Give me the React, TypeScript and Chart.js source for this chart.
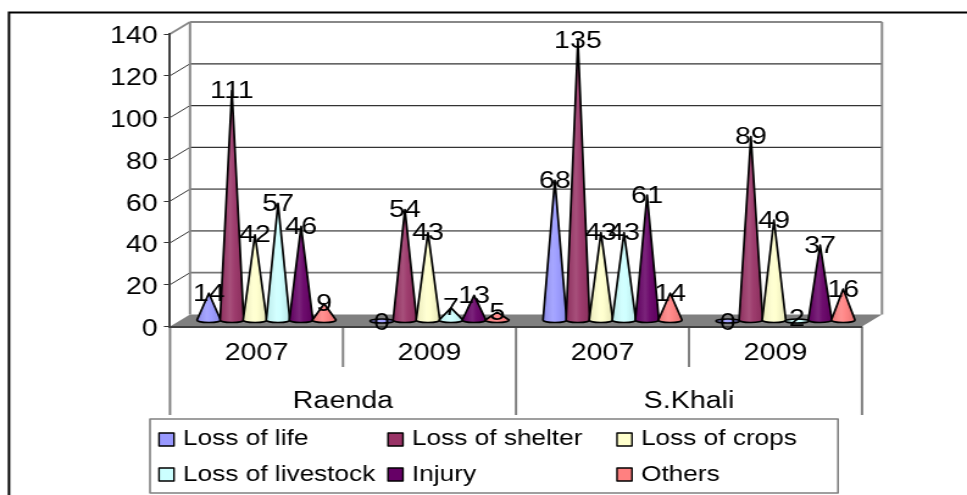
import React, { useEffect, useRef } from "react";
import { Chart, registerables } from "chart.js";

Chart.register(...registerables);

const years = ["2007", "2009", "2007", "2009"];
const places = ["Raenda", "S.Khali"];
const seriesNames = ["Loss of life", "Loss of shelter", "Loss of crops", "Loss of livestock", "Injury", "Others"];
const lossOfLife = [14, 0, 68, 0];
const lossOfShelter = [111, 54, 135, 89];
const lossOfCrops = [42, 43, 43, 49];
const lossOfLivestock = [57, 7, 43, 2];
const injury = [46, 13, 61, 37];
const others = [9, 5, 14, 16];
const seriesValues = [lossOfLife, lossOfShelter, lossOfCrops, lossOfLivestock, injury, others];
const seriesColors = ["#9999FF", "#993366", "#FFFFCC", "#CCFFFF", "#660066", "#FF8080"];

// The reference is horizontally stretched: the canvas is laid out in narrower units and scaled.
const PAGE_W = 967;
const CANVAS_W = 793;
const H = 495;
const K = PAGE_W / CANVAS_W;
const X = (v: number) => v / K;
const FONT = "'Liberation Sans', Arial, sans-serif";

const shade = (hex: string, f: number) => {
  const n = parseInt(hex.slice(1), 16);
  const c = [(n >> 16) & 255, (n >> 8) & 255, n & 255].map((v) =>
    Math.round(f >= 0 ? v + (255 - v) * f : v * (1 + f))
  );
  return `rgb(${c[0]},${c[1]},${c[2]})`;
};

const conePlugin = {
  id: "cones",
  beforeDraw(chart: any) {
    const { ctx } = chart;
    const y = chart.scales.y;
    const x0 = chart.chartArea.left;
    const x1 = chart.chartArea.right;
    const dx = X(20);
    const dy = 12;
    const y0 = y.getPixelForValue(0);
    const yTop = y.getPixelForValue(140);
    // digits sit slightly high with a "middle" baseline: nudge the y tick labels down
    y.getLabelItems(chart.chartArea).forEach((item: any) => {
      if (!item._nudged) {
        item.textOffset += 3;
        item._nudged = true;
      }
    });
    ctx.save();
    // outer frame
    ctx.strokeStyle = "#000";
    ctx.lineWidth = 2;
    ctx.beginPath();
    ctx.moveTo(X(9), H);
    ctx.lineTo(X(9), 12.5);
    ctx.lineTo(CANVAS_W, 12.5);
    ctx.stroke();
    // floor
    ctx.fillStyle = "#808080";
    ctx.beginPath();
    ctx.moveTo(x0, y0);
    ctx.lineTo(x0 + dx, y0 - dy);
    ctx.lineTo(x1 + dx, y0 - dy);
    ctx.lineTo(x1, y0);
    ctx.closePath();
    ctx.fill();
    // grid on back wall, and side wall diagonals
    y.ticks.forEach((t: any) => {
      const py = y.getPixelForValue(t.value);
      if (t.value === 0) return;
      ctx.strokeStyle = t.value === 140 ? "#888" : t.value >= 80 ? "#333" : "#777";
      ctx.lineWidth = t.value >= 80 && t.value < 140 ? 1.2 : 1.8;
      ctx.beginPath();
      ctx.moveTo(x0 + dx, py - dy);
      ctx.lineTo(x1 + dx, py - dy);
      ctx.stroke();
      ctx.strokeStyle = t.value === 140 ? "#888" : "#333";
      ctx.lineWidth = t.value === 140 ? 1.8 : 1;
      ctx.beginPath();
      ctx.moveTo(x0, py);
      ctx.lineTo(x0 + dx, py - dy);
      ctx.stroke();
    });
    // back wall edges
    ctx.strokeStyle = "#888";
    ctx.lineWidth = 2;
    ctx.beginPath();
    ctx.moveTo(x0 + dx, y0 - dy);
    ctx.lineTo(x0 + dx, yTop - dy);
    ctx.moveTo(x1 + dx, yTop - dy);
    ctx.lineTo(x1 + dx, y0 - dy);
    ctx.stroke();
    // category separators below the axis
    const band = (x1 - x0) / years.length;
    ctx.strokeStyle = "#808080";
    ctx.beginPath();
    for (let i = 0; i <= years.length; i++) {
      const px = x0 + i * band;
      ctx.moveTo(px, y0);
      ctx.lineTo(px, i % 2 === 0 ? 415 : 367);
    }
    ctx.stroke();
    ctx.restore();
  },
  beforeDatasetDraw() {
    return false;
  },
  afterDatasetsDraw(chart: any) {
    const { ctx } = chart;
    const offX = X(10);
    const offY = 4;
    const baseY = chart.scales.y.getPixelForValue(0) - offY - 2.5;
    ctx.save();
    const metas = chart.data.datasets.map((_: any, i: number) => chart.getDatasetMeta(i));
    metas.forEach((meta: any, i: number) => {
      const col = seriesColors[i];
      meta.data.forEach((bar: any) => {
        const cx = bar.x + offX;
        const rx = X(11.8);
        const tip = bar.y - offY;
        const ry = 2.5;
        const g = ctx.createLinearGradient(cx - rx, 0, cx + rx, 0);
        g.addColorStop(0, shade(col, -0.08));
        g.addColorStop(0.42, shade(col, 0.14));
        g.addColorStop(0.6, shade(col, 0.05));
        g.addColorStop(1, shade(col, -0.1));
        ctx.fillStyle = g;
        ctx.strokeStyle = "#000";
        ctx.lineWidth = 1.7;
        ctx.lineJoin = "round";
        ctx.beginPath();
        if (baseY - tip < 3) {
          ctx.ellipse(cx, baseY + 1, rx, 2, 0, 0, Math.PI * 2);
        } else {
          ctx.moveTo(cx, tip);
          ctx.lineTo(cx + rx, baseY);
          ctx.ellipse(cx, baseY, rx, ry, 0, 0, Math.PI);
          ctx.closePath();
        }
        ctx.fill();
        ctx.stroke();
      });
    });
    // data labels
    ctx.fillStyle = "#000";
    ctx.font = `23.5px ${FONT}`;
    ctx.textAlign = "center";
    ctx.textBaseline = "middle";
    metas.forEach((meta: any, i: number) => {
      meta.data.forEach((bar: any, j: number) => {
        ctx.fillText(String(seriesValues[i][j]), bar.x + offX, bar.y - offY + 1);
      });
    });
    // legend
    ctx.strokeStyle = "#808080";
    ctx.lineWidth = 1.6;
    ctx.strokeRect(X(150), 419, X(688), 74);
    const colsX = [159, 388, 617];
    ctx.font = `21.5px ${FONT}`;
    ctx.textAlign = "left";
    seriesNames.forEach((name, i) => {
      const col = i % 3;
      const row = Math.floor(i / 3);
      const sy = row === 0 ? 433 : 468;
      ctx.fillStyle = seriesColors[i];
      ctx.fillRect(X(colsX[col]), sy, X(15), 13);
      ctx.strokeStyle = "#000";
      ctx.lineWidth = 1.4;
      ctx.strokeRect(X(colsX[col]), sy, X(15), 13);
      ctx.fillStyle = "#000";
      ctx.fillText(name, X(colsX[col] + 24), sy + 6 + row * 1.5);
    });
    ctx.restore();
  },
};

export default function App() {
  const ref = useRef<HTMLCanvasElement | null>(null);
  useEffect(() => {
    if (!ref.current) return;
    const axisFont = { family: FONT, size: 23.5 };
    const chart = new Chart(ref.current, {
      type: "bar",
      data: {
        labels: years,
        datasets: seriesNames.map((label, i) => ({
          label,
          data: seriesValues[i],
          backgroundColor: seriesColors[i],
          borderColor: "#000",
          categoryPercentage: 0.8,
          barPercentage: 1,
        })),
      },
      options: {
        responsive: false,
        animation: false,
        devicePixelRatio: 1,
        layout: { padding: { left: 0, top: 34, right: CANVAS_W - X(862), bottom: 74.5 } },
        plugins: { legend: { display: false }, tooltip: { enabled: false }, title: { display: false } },
        scales: {
          y: {
            min: 0,
            max: 140,
            ticks: { stepSize: 20, color: "#000", font: axisFont, padding: 5 },
            grid: { drawOnChartArea: false, drawTicks: true, tickLength: 5, tickColor: "#333" },
            border: { color: "#404040", width: 2 },
            afterFit(s: any) {
              s.width = X(170);
              s.paddingTop = 0;
              s.paddingBottom = 0;
            },
          },
          x: {
            offset: true,
            ticks: { color: "#000", font: axisFont, padding: 13, maxRotation: 0, autoSkip: false },
            grid: { display: false, tickLength: 0 },
            border: { color: "#404040", width: 2 },
            afterFit(s: any) {
              s.height = 47;
              s.paddingLeft = 0;
              s.paddingRight = 0;
            },
          },
          x2: {
            axis: "x",
            type: "category",
            position: "bottom",
            labels: places,
            offset: true,
            ticks: { color: "#000", font: axisFont, padding: 14, maxRotation: 0, autoSkip: false },
            grid: { display: false, tickLength: 0 },
            border: { display: false },
            afterFit(s: any) {
              s.height = 47;
              s.paddingLeft = 0;
              s.paddingRight = 0;
            },
          },
        },
      } as any,
      plugins: [conePlugin as any],
    });
    return () => chart.destroy();
  }, []);
  return (
    <div
      style={{
        position: "fixed",
        left: 0,
        top: 0,
        width: CANVAS_W,
        height: H,
        transform: `scaleX(${K})`,
        transformOrigin: "0 0",
      }}
    >
      <canvas ref={ref} width={CANVAS_W} height={H} style={{ display: "block" }} />
    </div>
  );
}
